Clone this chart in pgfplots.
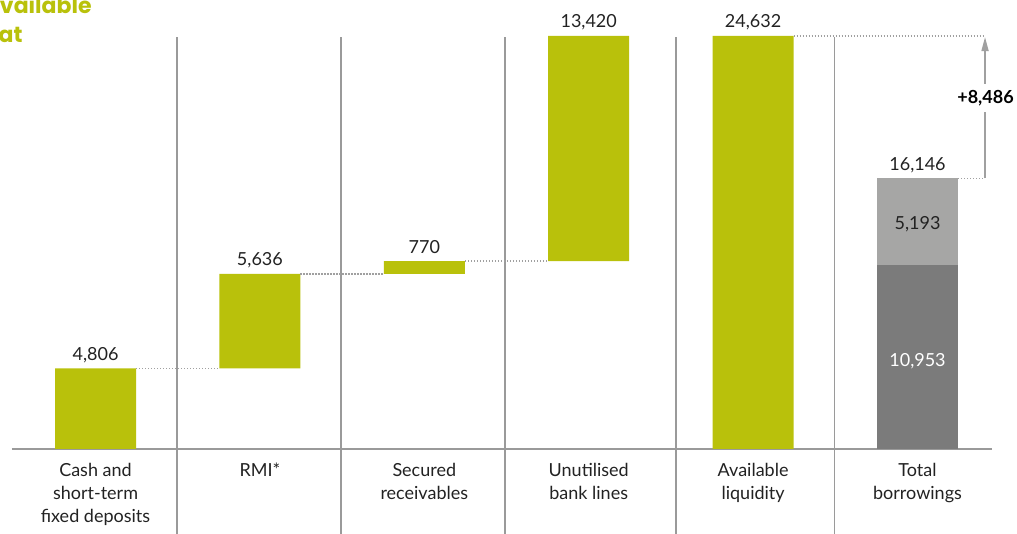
\documentclass[border=0pt]{standalone}
\usepackage{pgfplots}
\pgfplotsset{compat=1.18}
\usepackage{fontspec}
\setmainfont{Lato}
\newfontfamily\titlefont{Poppins}
\usetikzlibrary{arrows.meta}
\definecolor{olive}{HTML}{B9C10B}
\definecolor{lgrey}{HTML}{A6A6A5}
\definecolor{dgrey}{HTML}{7B7B7B}
\definecolor{axgrey}{HTML}{9A9A9A}
\definecolor{dotgrey}{HTML}{A0A0A0}
\definecolor{txt}{HTML}{222222}
\pgfplotsset{myaxis/.style={width=490pt,height=206.5pt,scale only axis,
  xmin=-0.508,xmax=5.453,ymin=0,ymax=24632,clip=false}}
\pgfplotstableread{
x y label
0 4806 4,806
1 10442 5,636
2 11212 770
3 24632 13,420
4 24632 24,632
5 16146 16,146
}\toplabels
\begin{document}
\begin{tikzpicture}
\begin{axis}[myaxis, ybar stacked, bar width=0.4927,
  axis y line=none, axis x line=bottom,
  x axis line style={-, draw=axgrey, line width=0.6pt},
  xtick={0,1,2,3,4,5},
  xticklabels={{Cash and\\short-term\\fixed deposits},{RMI*},{Secured\\receivables},{Unutilised\\bank lines},{Available\\liquidity},{Total\\borrowings}},
  major tick length=0pt,
  xticklabel style={align=center, anchor=north, inner sep=0pt, yshift=-6.7pt,
    font=\fontsize{9}{11.5}\selectfont, text=txt}]
\addplot[fill=none, draw=none] coordinates {(0,0) (1,4806) (2,10442) (3,11212) (4,0) (5,0)};
\addplot[fill=olive, draw=none] coordinates {(0,4806) (1,5636) (2,770) (3,13420) (4,24632) (5,0)};
\addplot[fill=dgrey, draw=none] coordinates {(0,0) (1,0) (2,0) (3,0) (4,0) (5,10953)};
\addplot[fill=lgrey, draw=none] coordinates {(0,0) (1,0) (2,0) (3,0) (4,0) (5,5193)};
\draw[axgrey, line width=0.6pt] (axis cs:0.4957,24570) -- (axis cs:0.4957,-5100);
\draw[axgrey, line width=0.6pt] (axis cs:1.4933,24570) -- (axis cs:1.4933,-5100);
\draw[axgrey, line width=0.6pt] (axis cs:2.4909,24570) -- (axis cs:2.4909,-5100);
\draw[axgrey, line width=0.6pt] (axis cs:3.531,24570) -- (axis cs:3.531,-5100);
\draw[axgrey, line width=0.6pt] (axis cs:4.4964,24570) -- (axis cs:4.4964,-5100);
\end{axis}
\begin{axis}[myaxis, hide axis]
\addplot[dotgrey, line width=0.6pt, dash pattern=on 0.6pt off 0.9pt, mark=none] coordinates {(0.2464,4806) (0.7536,4806)};
\addplot[dotgrey, line width=0.6pt, dash pattern=on 0.6pt off 0.9pt, mark=none] coordinates {(1.2464,10442) (1.7536,10442)};
\addplot[dotgrey, line width=0.6pt, dash pattern=on 0.6pt off 0.9pt, mark=none] coordinates {(2.2464,11212) (2.7536,11212)};
\addplot[dotgrey, line width=0.6pt, dash pattern=on 0.6pt off 0.9pt, mark=none] coordinates {(4.2464,24632) (5.4106,24632)};
\addplot[dotgrey, line width=0.6pt, dash pattern=on 0.6pt off 0.9pt, mark=none] coordinates {(5.2464,16146) (5.4106,16146)};
\addplot[dotgrey, line width=0.6pt, mark=none, -{Triangle[length=7pt,width=3.6pt]}] coordinates {(5.4106,16146) (5.4106,24560)};
\addplot[draw=none, mark=none, nodes near coords, point meta=explicit symbolic,
  nodes near coords style={font=\fontsize{9}{11}\selectfont, text=txt, anchor=base, yshift=4pt, inner sep=0pt}]
  table[x=x, y=y, meta=label] {\toplabels};
\addplot[draw=none, mark=none, nodes near coords, point meta=explicit symbolic,
  nodes near coords style={font=\fontsize{9}{11}\selectfont, text=txt, anchor=center, inner sep=0pt}]
  table[meta=label] {
x y label
5 13400 5,193
};
\addplot[draw=none, mark=none, nodes near coords, point meta=explicit symbolic,
  nodes near coords style={font=\fontsize{9}{11}\selectfont, text=white, anchor=center, inner sep=0pt}]
  table[meta=label] {
x y label
5 5250 10,953
};
\addplot[draw=none, mark=none, nodes near coords, point meta=explicit symbolic,
  nodes near coords style={font=\bfseries\fontsize{9}{11}\selectfont, text=black, anchor=center, fill=white, inner xsep=0pt, inner ysep=3pt}]
  table[meta=label] {
x y label
5.4136 20930 +8,486
};
\end{axis}
\node[anchor=base east, inner sep=0pt, text=olive, font=\titlefont\bfseries\fontsize{11}{13}\selectfont] at ([xshift=40pt,yshift=11.25pt]current axis.north west) {Available};
\node[anchor=base east, inner sep=0pt, text=olive, font=\titlefont\bfseries\fontsize{11}{13}\selectfont] at ([xshift=5.5pt,yshift=-3.5pt]current axis.north west) {at};
\pgfresetboundingbox
\path[use as bounding box] ([xshift=-6pt,yshift=-42.5pt]current axis.south west) rectangle ([xshift=12.5pt,yshift=18pt]current axis.north east);
\end{tikzpicture}
\end{document}
